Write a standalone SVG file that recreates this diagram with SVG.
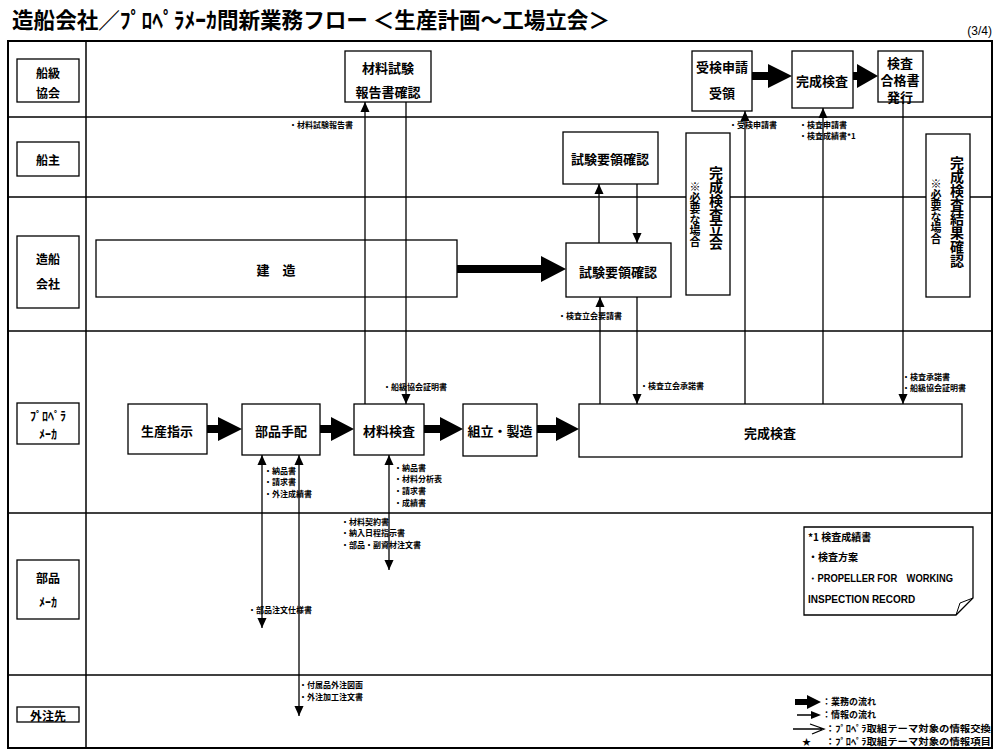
<svg xmlns="http://www.w3.org/2000/svg" width="1000" height="755" viewBox="0 0 1000 755">
<defs>
<style>
text{font-family:"Noto Sans CJK JP","Liberation Sans",sans-serif;font-weight:bold;fill:#000}
.box{fill:#fff;stroke:#000;stroke-width:1.3}
.lane{stroke:#000;stroke-width:1.5;fill:none}
.bt{font-size:13px;text-anchor:middle;dominant-baseline:central}
.lt{font-size:12px;text-anchor:middle;dominant-baseline:central}
.sm{font-size:8px}
.lg{font-size:9px}
.info{stroke:#000;stroke-width:1.3;fill:none;marker-end:url(#ah)}
.info2{stroke:#000;stroke-width:1.3;fill:none;marker-end:url(#ah);marker-start:url(#ah)}
.thick{fill:#000;stroke:none}
.vt{writing-mode:vertical-rl;text-anchor:start}
</style>
<marker id="ah" markerUnits="userSpaceOnUse" markerWidth="10" markerHeight="12" refX="11" refY="5" orient="auto-start-reverse" viewBox="0 0 11 10">
<path d="M0,0 L11,5 L0,10 z" fill="#000"/>
</marker>
</defs>
<rect width="1000" height="755" fill="#fff"/>

<g id="title">
<text x="12" y="28" font-size="22" textLength="598" lengthAdjust="spacingAndGlyphs">造船会社／ﾌﾟﾛﾍﾟﾗﾒｰｶ間新業務フロー ＜生産計画～工場立会＞</text>
<text x="992" y="35" font-size="12" text-anchor="end" style="font-family:'Liberation Sans',sans-serif;font-weight:normal">(3/4)</text>
</g>

<g id="frame">
<rect x="8" y="41" width="984" height="707" fill="none" stroke="#000" stroke-width="2"/>
<line class="lane" x1="86" y1="41" x2="86" y2="748" stroke-width="2"/>
<line class="lane" x1="8" y1="117" x2="992" y2="117"/>
<line class="lane" x1="8" y1="197" x2="992" y2="197"/>
<line class="lane" x1="8" y1="331" x2="992" y2="331"/>
<line class="lane" x1="8" y1="513" x2="992" y2="513"/>
<line class="lane" x1="8" y1="675" x2="992" y2="675"/>
</g>

<g id="lane-labels">
<g id="lane-class"><rect class="box" x="17" y="59" width="62" height="43"/><text class="lt" x="48" y="72">船級</text><text class="lt" x="48" y="92">協会</text></g>
<g id="lane-owner"><rect class="box" x="17" y="142" width="62" height="34"/><text class="lt" x="48" y="159">船主</text></g>
<g id="lane-yard"><rect class="box" x="17" y="236" width="62" height="72"/><text class="lt" x="48" y="258">造船</text><text class="lt" x="48" y="283">会社</text></g>
<g id="lane-prop"><rect class="box" x="17" y="403" width="62" height="41"/><text class="lt" x="48" y="415">ﾌﾟﾛﾍﾟﾗ</text><text class="lt" x="48" y="433">ﾒｰｶ</text></g>
<g id="lane-parts"><rect class="box" x="17" y="560" width="62" height="59"/><text class="lt" x="48" y="577">部品</text><text class="lt" x="48" y="601">ﾒｰｶ</text></g>
<g id="lane-sub"><rect class="box" x="17" y="707" width="62" height="15"/><text class="lt" x="48" y="715">外注先</text></g>
</g>

<g id="n-zairyo-report"><rect class="box" x="345" y="51" width="86" height="51"/><text class="bt" x="388" y="67">材料試験</text><text class="bt" x="388" y="91">報告書確認</text></g>
<g id="n-juken"><rect class="box" x="692" y="51" width="60" height="60"/><text class="bt" x="722" y="66">受検申請</text><text class="bt" x="722" y="92">受領</text></g>
<g id="n-kansei-top"><rect class="box" x="792" y="51" width="61" height="57"/><text class="bt" x="822" y="80">完成検査</text></g>
<g id="n-goukaku"><rect class="box" x="878" y="51" width="45" height="51"/><text class="bt" x="900" y="62">検査</text><text class="bt" x="900" y="79">合格書</text><text class="bt" x="900" y="96">発行</text></g>
<g id="n-shiken-owner"><rect class="box" x="563" y="132" width="95" height="52"/><text class="bt" x="610" y="158">試験要領確認</text></g>
<g id="n-tachiai"><rect class="box" x="686" y="133" width="44" height="162"/><text class="vt" x="716" y="166" font-size="14">完成検査立会</text><text class="vt" x="695" y="181" font-size="11">※必要な場合</text></g>
<g id="n-kekka"><rect class="box" x="926" y="134" width="44" height="163"/><text class="vt" x="957" y="156" font-size="14">完成検査結果確認</text><text class="vt" x="936" y="178" font-size="11">※必要な場合</text></g>
<g id="n-kenzo"><rect class="box" x="96" y="240" width="361" height="57"/><text class="bt" x="276" y="269" font-size="14">建　造</text></g>
<g id="n-shiken-yard"><rect class="box" x="566" y="243" width="105" height="54"/><text class="bt" x="618" y="271" font-size="14">試験要領確認</text></g>
<g id="n-seisan"><rect class="box" x="128" y="404" width="79" height="50"/><text class="bt" x="167" y="430" font-size="14">生産指示</text></g>
<g id="n-buhin"><rect class="box" x="242" y="404" width="78" height="51"/><text class="bt" x="281" y="430" font-size="14">部品手配</text></g>
<g id="n-zairyo"><rect class="box" x="354" y="404" width="70" height="51"/><text class="bt" x="389" y="430" font-size="14">材料検査</text></g>
<g id="n-kumitate"><rect class="box" x="463" y="404" width="74" height="52"/><text class="bt" x="500" y="430" font-size="14">組立・製造</text></g>
<g id="n-kansei"><rect class="box" x="579" y="404" width="383" height="53"/><text class="bt" x="770" y="432" font-size="14">完成検査</text></g>

<g id="note">
<path d="M804 527 H973 V598 L956 615 H804 Z" fill="#fff" stroke="#000" stroke-width="1.3"/>
<path d="M956 615 L960 603 L973 598" fill="none" stroke="#000" stroke-width="1"/>
<text x="808" y="541" font-size="10">*1 検査成績書</text>
<text x="808" y="561" font-size="10">・検査方案</text>
<text x="808" y="582" font-size="10" style="font-family:'Liberation Sans',sans-serif" textLength="145" lengthAdjust="spacingAndGlyphs">・PROPELLER FOR　WORKING</text>
<text x="808" y="603" font-size="10" style="font-family:'Liberation Sans',sans-serif">INSPECTION RECORD</text>
</g>

<g id="connectors">
<path class="thick" d="M207 425 H218 V417 L242 429 L218 441 V433 H207 Z"/>
<path class="thick" d="M320 425 H331 V417 L354 429 L331 441 V433 H320 Z"/>
<path class="thick" d="M424 425 H440 V417 L463 429 L440 441 V433 H424 Z"/>
<path class="thick" d="M537 425 H556 V417 L579 429 L556 441 V433 H537 Z"/>
<path class="thick" d="M457 265 H541 V256 L566 269 L541 282 V273 H457 Z"/>
<path class="thick" d="M752 72 H768 V64 L792 76 L768 88 V80 H752 Z"/>
<path class="thick" d="M853 72 H857 V64 L878 76 L857 88 V80 H853 Z"/>
<line class="info" x1="365" y1="404" x2="365" y2="102"/>
<line class="info" x1="406" y1="102" x2="406" y2="404"/>
<line class="info" x1="599" y1="243" x2="599" y2="184"/>
<line class="info" x1="637" y1="184" x2="637" y2="243"/>
<line class="info" x1="600" y1="404" x2="600" y2="297"/>
<line class="info" x1="637" y1="297" x2="637" y2="404"/>
<line class="info" x1="745" y1="404" x2="745" y2="111"/>
<line class="info" x1="823" y1="404" x2="823" y2="108"/>
<line class="info" x1="903" y1="102" x2="903" y2="404"/>
<line class="info2" x1="262" y1="628" x2="262" y2="455"/>
<line class="info2" x1="299" y1="716" x2="299" y2="455"/>
<line class="info2" x1="389" y1="570" x2="389" y2="455"/>
</g>

<g id="connector-labels">
<text class="sm" x="289" y="128">・材料試験報告書</text>
<text class="sm" x="729" y="128">・受検申請書</text>
<text class="sm" x="799" y="128">・検査申請書</text>
<text class="sm" x="799" y="139">・検査成績書*1</text>
<text class="sm" x="558" y="319">・検査立会要請書</text>
<text class="sm" x="640" y="389">・検査立会承諾書</text>
<text class="sm" x="902" y="380">・検査承諾書</text>
<text class="sm" x="902" y="391">・船級協会証明書</text>
<text class="sm" x="383" y="390">・船級協会証明書</text>
<text class="sm" x="264" y="474">・納品書</text>
<text class="sm" x="264" y="485">・請求書</text>
<text class="sm" x="264" y="497">・外注成績書</text>
<text class="sm" x="394" y="471">・納品書</text>
<text class="sm" x="394" y="482">・材料分析表</text>
<text class="sm" x="394" y="494">・請求書</text>
<text class="sm" x="394" y="506">・成績書</text>
<text class="sm" x="341" y="525">・材料契約書</text>
<text class="sm" x="341" y="536">・納入日程指示書</text>
<text class="sm" x="341" y="548">・部品・副資材注文書</text>
<text class="sm" x="248" y="613">・部品注文仕様書</text>
<text class="sm" x="299" y="688">・付属品外注図面</text>
<text class="sm" x="299" y="700">・外注加工注文書</text>
</g>

<g id="legend">
<path class="thick" d="M795 699 H807 V695 L821 702 L807 709 V705 H795 Z"/>
<line x1="797" y1="715" x2="812" y2="715" stroke="#000" stroke-width="1.5"/>
<path d="M811 711 L821 715 L811 719 Z" fill="#000"/>
<path d="M793 729 H822 M810 724 L824 729 L812 734" fill="none" stroke="#000" stroke-width="1.3"/>
<text class="lg" x="802" y="745">★</text>
<text class="lg" x="822" y="705">：業務の流れ</text>
<text class="lg" x="822" y="718">：情報の流れ</text>
<text class="lg" x="825" y="732" textLength="166" lengthAdjust="spacingAndGlyphs">：ﾌﾟﾛﾍﾟﾗ取組テーマ対象の情報交換</text>
<text class="lg" x="825" y="745" textLength="166" lengthAdjust="spacingAndGlyphs">：ﾌﾟﾛﾍﾟﾗ取組テーマ対象の情報項目</text>
</g>
</svg>
